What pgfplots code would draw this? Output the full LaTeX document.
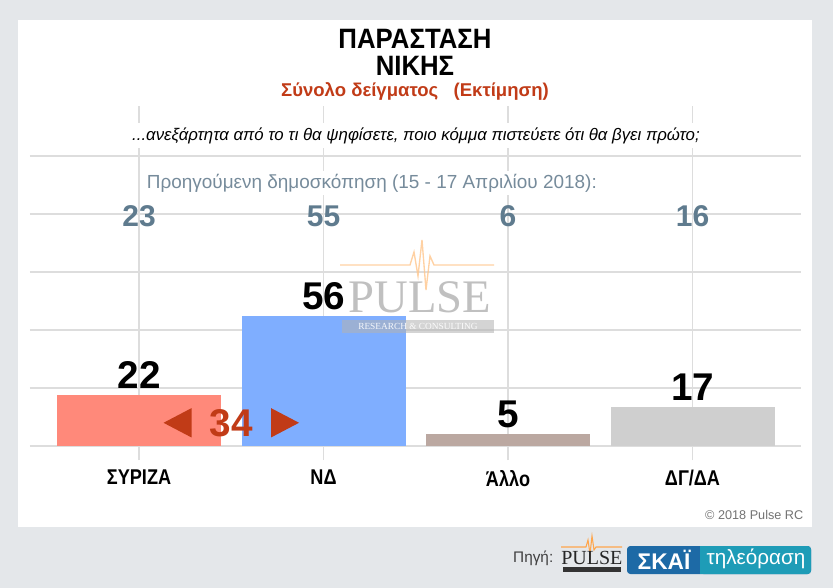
\documentclass[border=0pt]{standalone}
\usepackage{fontspec}
\setmainfont{Liberation Sans}
\newfontfamily\narrow[FakeStretch=0.85]{Liberation Sans}
\newfontfamily\tnarrow[FakeStretch=0.92]{Liberation Sans}
\newfontfamily\seriffont{Liberation Serif}
\usepackage{pgfplots}
\pgfplotsset{compat=1.18}
\definecolor{bgc}{HTML}{E4E7EA}
\definecolor{gridc}{HTML}{DDDDDD}
\definecolor{syrc}{HTML}{FF897A}
\definecolor{ndc}{HTML}{7FAEFF}
\definecolor{alloc}{HTML}{BBA8A1}
\definecolor{dgdac}{HTML}{CFCFCF}
\definecolor{redc}{HTML}{C13B17}
\definecolor{prevc}{HTML}{5F7B8E}
\definecolor{prevtext}{HTML}{768B9B}
\definecolor{skaia}{HTML}{1D6AA6}
\definecolor{skaib}{HTML}{1E9CB7}
\newcommand{\fs}[1]{\fontsize{#1}{#1}\selectfont}
\pgfplotsset{mybar/.style={ybar, bar width=123pt, bar shift=0pt, draw=none, fill=#1,
  nodes near coords, nodes near coords style={font=\bfseries\fs{29pt}, text=black, yshift=1pt}}}
\begin{document}
\begin{tikzpicture}
\begin{scope}[x=0.75pt,y=-0.75pt]
\fill[bgc] (0,0) rectangle (833,588);
\useasboundingbox (0,0) rectangle (833,588);
\fill[white] (18,20) rectangle (812,527);
\end{scope}
\begin{axis}[
  at={(22.5pt,-334.5pt)}, anchor=south west,
  scale only axis, width=578.25pt, height=255pt,
  xmin=-0.591, xmax=3.588, ymin=0, ymax=146.5,
  /pgf/number format/assume math mode=true,
  axis line style={draw=none},
  xtick={0,1,2,3}, xticklabels={ΣΥΡΙΖΑ,ΝΔ,Άλλο,ΔΓ/ΔΑ},
  ytick={0,25,50,75,100,125}, yticklabels={},
  ymajorgrids, xmajorgrids,
  grid style={draw=gridc, line width=1pt},
  major tick length=10.5pt, tick align=outside, xtick pos=lower,
  xtick style={draw=gridc, line width=1pt},
  ytick style={draw=none},
  xticklabel style={font=\narrow\bfseries\fs{16pt}, text=black, yshift=-4pt},
  clip=false,
]
\addplot[mybar=syrc] coordinates {(0,22)};
\addplot[mybar=ndc] coordinates {(1,56)};
\addplot[mybar=alloc] coordinates {(2,5)};
\addplot[mybar=dgdac] coordinates {(3,17)};
% previous poll values
\addplot[only marks, mark=none, nodes near coords, point meta=explicit,
  nodes near coords style={anchor=center, font=\bfseries\fs{22.5pt}, text=prevc}]
  coordinates {(0,99) [23] (1,99) [55] (2,99) [6] (3,99) [16]};
\node[font=\bfseries\fs{29pt}, text=redc, inner sep=0pt] (n34) at (axis cs:0.5,10) {34};
\fill[redc] ([xshift=-13.5pt,yshift=11pt]n34.west) -- ([xshift=-13.5pt,yshift=-11pt]n34.west) -- ([xshift=-34.5pt]n34.west) -- cycle;
\fill[redc] ([xshift=13.5pt,yshift=11pt]n34.east) -- ([xshift=13.5pt,yshift=-11pt]n34.east) -- ([xshift=34.5pt]n34.east) -- cycle;
\end{axis}
\begin{scope}[x=0.75pt,y=-0.75pt]
\node[font=\tnarrow\bfseries\fs{21pt}, anchor=base, inner sep=0pt] at (415,48.5) {ΠΑΡΑΣΤΑΣΗ};
\node[font=\tnarrow\bfseries\fs{21pt}, anchor=base, inner sep=0pt] at (415,75.5) {ΝΙΚΗΣ};
\node[text=redc, font=\bfseries\fs{13.9pt}, anchor=base, inner sep=0pt] at (415,97) {Σύνολο δείγματος\ \ \ (Εκτίμηση)};
\node[fill=white, font=\itshape\fs{12.6pt}, inner sep=3pt] at (416,135.5) {...ανεξάρτητα από το τι θα ψηφίσετε, ποιο κόμμα πιστεύετε ότι θα βγει πρώτο;};
\node[fill=white, text=prevtext, font=\fs{14.2pt}, anchor=west, inner sep=2pt] at (144,183) {Προηγούμενη δημοσκόπηση (15 - 17 Απριλίου 2018):};
% watermark
\draw[orange!45, line width=1pt, opacity=0.8] (340,265) -- (410,265) -- (414,252) -- (418,276) -- (422,240) -- (426,290) -- (430,256) -- (434,265) -- (494,265);
\node[text=black!35, opacity=0.7, font=\seriffont\fs{35pt}, inner sep=0pt] at (420,297) {PULSE};
\fill[black!30, opacity=0.55] (342,320) rectangle (494,333);
\node[text=white, opacity=0.9, font=\seriffont\fs{7pt}, inner sep=0pt] at (418,326.5) {RESEARCH \& CONSULTING};
% copyright
\node[anchor=east, text=black!55, font=\fs{9.5pt}] at (808,515) {© 2018 Pulse RC};
% source
\node[anchor=east, text=black!75, font=\fs{11.5pt}] at (558,558) {Πηγή:};
\draw[orange!70, line width=0.8pt] (561,547) -- (586,547) -- (588,540) -- (590,554) -- (592,536) -- (594,550) -- (596,547) -- (622,547);
\node[anchor=west, font=\seriffont\fs{15pt}, text=black!85, inner sep=0pt] at (561,558) {PULSE};
\fill[black!80] (563,567) rectangle (621,572);
\fill[skaia, rounded corners=2.5pt] (627,546) rectangle (811,574);
\fill[skaib, rounded corners=2.5pt] (700,546) rectangle (811,574);
\fill[skaib] (700,546) rectangle (706,574);
\node[text=white, font=\bfseries\fs{17pt}] at (664,560) {ΣΚΑΪ};
\node[text=white, font=\fs{15.5pt}] at (756,559) {τηλεόραση};
\end{scope}
\end{tikzpicture}
\end{document}
